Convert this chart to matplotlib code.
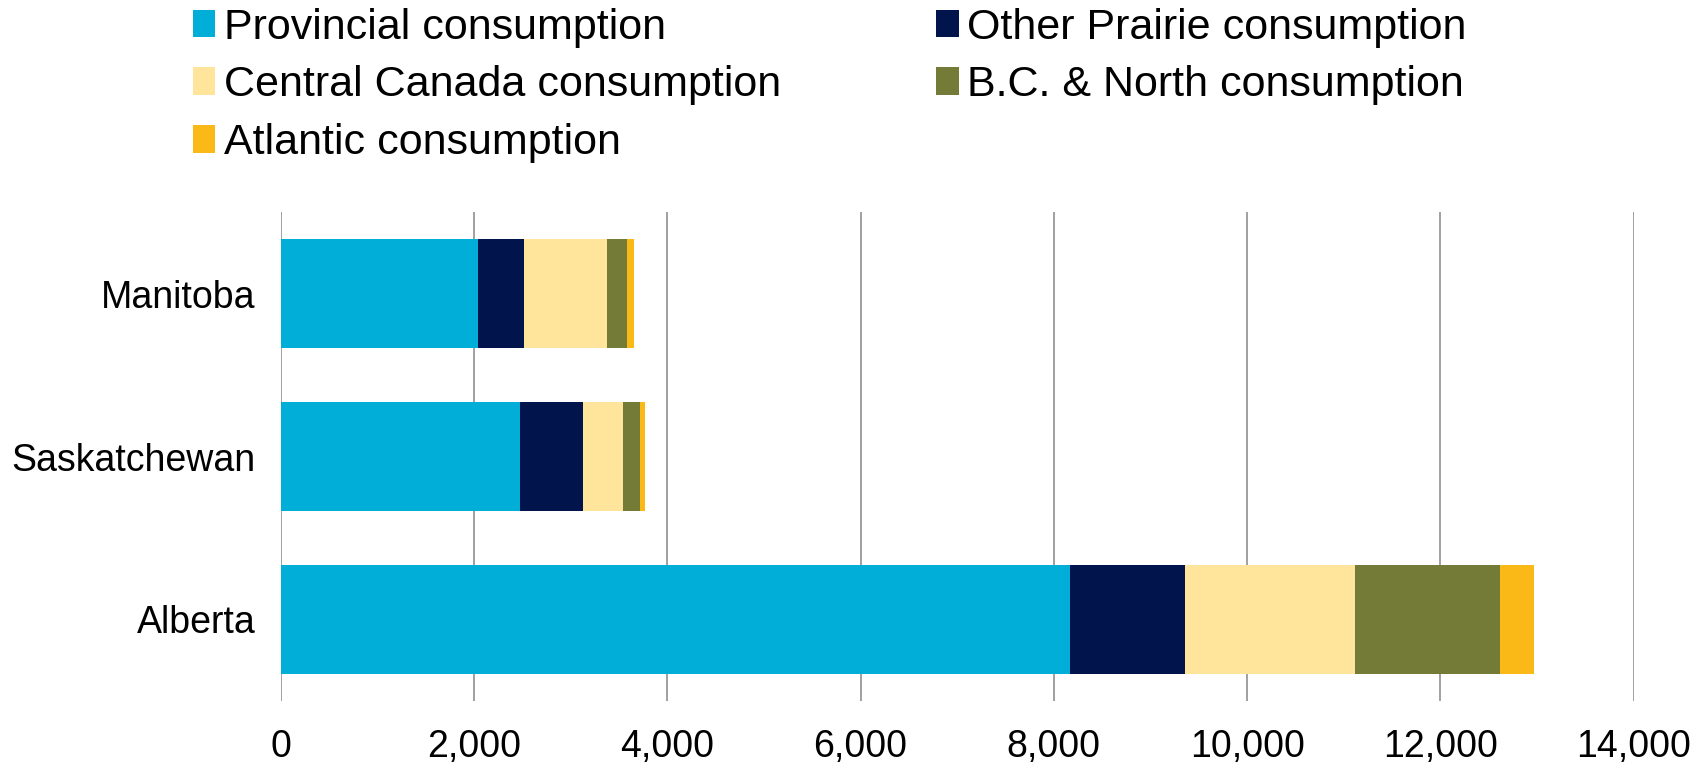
import matplotlib
matplotlib.use("Agg")
import matplotlib.pyplot as plt
import numpy as np

plt.rcParams['font.family'] = ['Liberation Sans', 'DejaVu Sans']

provinces = ["Manitoba", "Saskatchewan", "Alberta"]
series_names = ["Provincial consumption", "Other Prairie consumption",
                "Central Canada consumption", "B.C. & North consumption",
                "Atlantic consumption"]
provincial = [2044, 2473, 8171]
other_prairie = [471, 651, 1182]
central_canada = [861, 414, 1759]
bc_north = [204, 179, 1505]
atlantic = [79, 52, 351]
colors = ["#00AED8", "#02144C", "#FFE49C", "#737B36", "#FBB917"]
xticks = [0, 2000, 4000, 6000, 8000, 10000, 12000, 14000]

series = [provincial, other_prairie, central_canada, bc_north, atlantic]

fig = plt.figure(figsize=(17.05, 7.66), dpi=100)
ax = fig.add_axes([0.1646, 0.085, 0.7936, 0.638])

y = np.arange(len(provinces))
left = np.zeros(len(provinces))
handles = []
for name, vals, c in zip(series_names, series, colors):
    h = ax.barh(y, vals, left=left, height=0.67, color=c, label=name,
                edgecolor='none', zorder=3)
    handles.append(h)
    left += np.array(vals)

ax.set_ylim(2.5, -0.5)
ax.set_xlim(0, 14000)
ax.set_yticks(y)
ax.set_yticklabels(provinces, fontsize=27)
ax.set_xticks(xticks)
ax.set_xticklabels([f"{v:,}" for v in xticks], fontsize=27)
ax.tick_params(axis='both', length=0)
ax.tick_params(axis='x', pad=20)
ax.tick_params(axis='y', pad=18)
ax.grid(axis='x', color='#868686', linewidth=1.1, zorder=0)
for s in ax.spines.values():
    s.set_visible(False)

order = [0, 2, 4, 1, 3]
leg = fig.legend([handles[i] for i in order], [series_names[i] for i in order],
                 ncol=2, loc='upper left', bbox_to_anchor=(193 / 1705, 0.99),
                 frameon=False, fontsize=31, handlelength=0.52, handleheight=0.62,
                 handletextpad=0.2, columnspacing=3.6, labelspacing=0.41,
                 borderaxespad=0.0, borderpad=0.0)

fig.savefig("out.png", dpi=100)
